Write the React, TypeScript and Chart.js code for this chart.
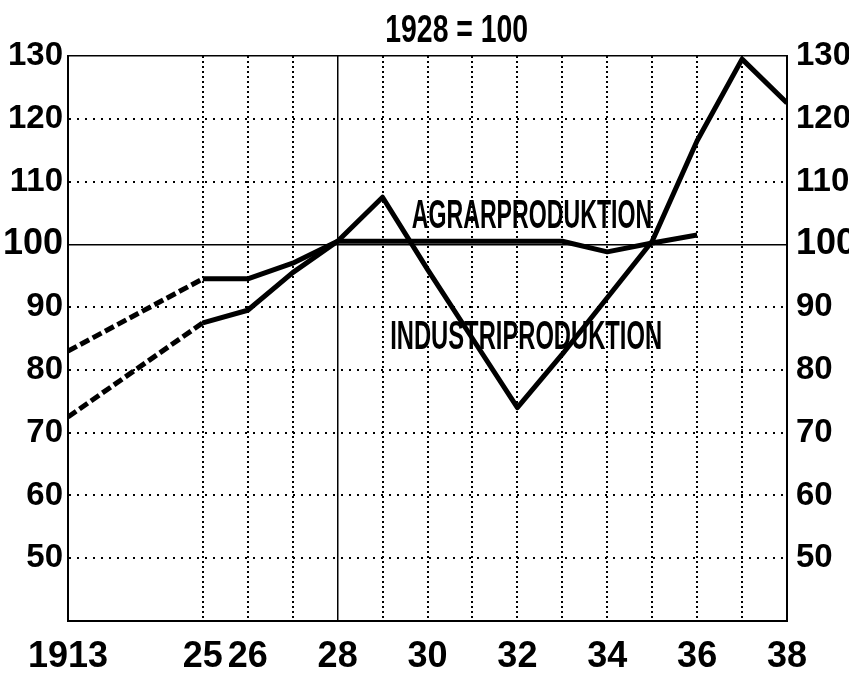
import React, { useEffect, useRef } from "react";
import { Chart, registerables } from "chart.js";

Chart.register(...registerables);

// ---- data ----
const xSlots = [22, 25, 26, 27, 28, 29, 30, 31, 32, 33, 34, 35, 36, 37, 38];
const yearNames = ["1913", "25", "26", "27", "28", "29", "30", "31", "32", "33", "34", "35", "36", "37", "38"];
const shownYears = ["1913", "25", "26", "28", "30", "32", "34", "36", "38"];
const industri = [72.5, 87.5, 89.5, 95.5, 100.5, 107.5, 96, 85, 74, 82.5, 91.5, 100.5, 116.5, 129.5, 122.5];
const agrar = [83, 94.5, 94.5, 97, 100.5, 100.5, 100.5, 100.5, 100.5, 100.5, 98.8, 100.2, 101.5];
const yTicks = [40, 50, 60, 70, 80, 90, 100, 110, 120, 130];
const titleText = "1928 = 100";
const agrarLabel = "AGRARPRODUKTION";
const industriLabel = "INDUSTRIPRODUKTION";

const FONT = "'Liberation Sans', Arial, sans-serif";

function fitText(ctx: CanvasRenderingContext2D, text: string, x: number, baseY: number, targetW: number, size: number) {
  ctx.save();
  ctx.font = `bold ${size}px ${FONT}`;
  const w = ctx.measureText(text).width;
  ctx.translate(x, baseY);
  ctx.scale(targetW / w, 1);
  ctx.textBaseline = "alphabetic";
  ctx.textAlign = "left";
  ctx.fillStyle = "#000";
  ctx.fillText(text, 0, 0);
  ctx.restore();
}

const textPlugin = {
  id: "texts",
  afterDatasetsDraw(chart: any) {
    const ctx = chart.ctx;
    const xs = chart.scales.x;
    const ys = chart.scales.y;
    fitText(ctx, agrarLabel, xs.getPixelForValue(29.65), ys.getPixelForValue(102.6), xs.getPixelForValue(35.0) - xs.getPixelForValue(29.65), 40);
    fitText(ctx, industriLabel, xs.getPixelForValue(29.17), ys.getPixelForValue(83.3), xs.getPixelForValue(35.22) - xs.getPixelForValue(29.17), 40);
    fitText(ctx, titleText, xs.getPixelForValue(29.06), chart.chartArea.top - 14, xs.getPixelForValue(32.24) - xs.getPixelForValue(29.06), 38);
  },
};

export default function App() {
  const ref = useRef<HTMLCanvasElement | null>(null);
  useEffect(() => {
    document.body.style.margin = "0";
    document.body.style.background = "#fff";
    const el = ref.current;
    if (!el) return;
    const pts = (arr: number[]) => arr.map((v, i) => ({ x: xSlots[i], y: v }));
    const yTickFont = (c: any) =>
      c.tick && c.tick.value === 100
        ? { family: FONT, size: 36, weight: "bold" as const }
        : { family: FONT, size: 33, weight: "bold" as const };
    const yLabel = (v: any) => (v === 40 ? "" : String(v));
    const chart = new Chart(el, {
      type: "line",
      data: {
        datasets: [
          {
            label: "Industriproduktion",
            data: pts(industri),
            borderColor: "#000",
            borderWidth: 5,
            pointRadius: 0,
            fill: false,
            tension: 0,
            borderJoinStyle: "round",
            segment: { borderDash: (c: any) => (c.p0DataIndex === 0 ? [10, 4] : undefined) },
          },
          {
            label: "Agrarproduktion",
            data: pts(agrar),
            borderColor: "#000",
            borderWidth: 5,
            pointRadius: 0,
            fill: false,
            tension: 0,
            borderJoinStyle: "round",
            segment: { borderDash: (c: any) => (c.p0DataIndex === 0 ? [10, 4] : undefined) },
          },
        ],
      },
      options: {
        animation: false,
        responsive: false,
        devicePixelRatio: 1,
        layout: { padding: { top: 56, left: 0, right: 0, bottom: 0 } },
        plugins: { legend: { display: false }, title: { display: false }, tooltip: { enabled: false } },
        scales: {
          x: {
            type: "linear",
            min: 22,
            max: 38,
            afterBuildTicks: (s: any) => {
              s.ticks = xSlots.map((v) => ({ value: v }));
            },
            afterFit: (s: any) => {
              s.height = 56;
            },
            ticks: {
              autoSkip: false,
              maxRotation: 0,
              padding: 14,
              color: "#000",
              font: { family: FONT, size: 36, weight: "bold" },
              callback: (v: any) => {
                const name = yearNames[xSlots.indexOf(Number(v))];
                return shownYears.includes(name) ? name : "";
              },
            },
            grid: {
              drawTicks: false,
              color: (c: any) => (c.tick && c.tick.value === 22 ? "rgba(0,0,0,0)" : "#000"),
              lineWidth: (c: any) => (c.tick && (c.tick.value === 28 || c.tick.value === 38) ? 1.5 : 2),
            },
            border: {
              display: true,
              color: "#000",
              width: 2,
              dash: (c: any) => (c.tick && (c.tick.value === 28 || c.tick.value === 38) ? [] : [2, 3]),
            },
          },
          y: {
            type: "linear",
            position: "left",
            min: 40,
            max: 130,
            afterBuildTicks: (s: any) => {
              s.ticks = yTicks.map((v) => ({ value: v }));
            },
            afterFit: (s: any) => {
              s.width = 68;
            },
            ticks: { padding: 5, color: "#000", font: yTickFont, callback: yLabel },
            grid: {
              drawTicks: false,
              color: (c: any) => (c.tick && c.tick.value === 40 ? "rgba(0,0,0,0)" : "#000"),
              lineWidth: (c: any) => (c.tick && (c.tick.value === 100 || c.tick.value === 130) ? 1.5 : 2),
            },
            border: {
              display: true,
              color: "#000",
              width: 2,
              dash: (c: any) => (c.tick && (c.tick.value === 100 || c.tick.value === 130) ? [] : [2, 6]),
            },
          },
          y2: {
            type: "linear",
            position: "right",
            min: 40,
            max: 130,
            afterBuildTicks: (s: any) => {
              s.ticks = yTicks.map((v) => ({ value: v }));
            },
            afterFit: (s: any) => {
              s.width = 62;
            },
            ticks: { padding: 9, color: "#000", font: yTickFont, callback: yLabel },
            grid: { display: false, drawTicks: false },
            border: { display: true, color: "#000", width: 2 },
          },
        },
      } as any,
      plugins: [textPlugin],
    });
    return () => chart.destroy();
  }, []);
  return (
    <div style={{ width: 849, height: 677, background: "#fff", overflow: "hidden" }}>
      <canvas ref={ref} width={849} height={677} style={{ display: "block" }} />
    </div>
  );
}
